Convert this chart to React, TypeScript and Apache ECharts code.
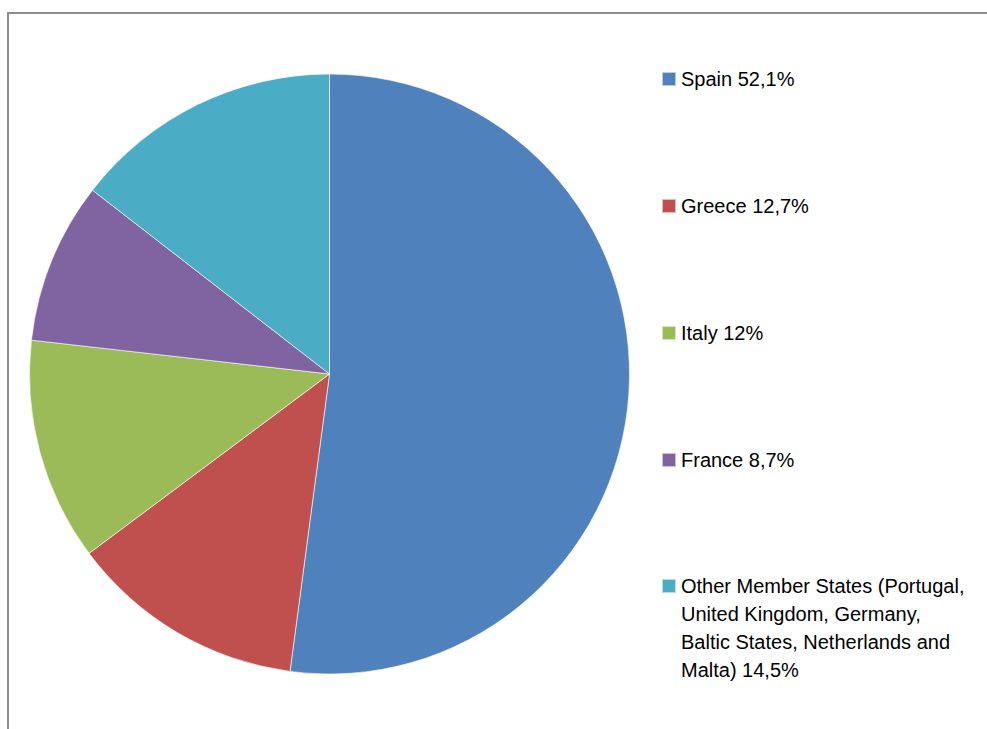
import React, { useEffect, useRef } from "react";
import * as echarts from "echarts";

const categories = [
  "Spain",
  "Greece",
  "Italy",
  "France",
  "Other Member States (Portugal, United Kingdom, Germany, Baltic States, Netherlands and Malta)",
];
const shares = [52.1, 12.7, 12, 8.7, 14.5];
const legendLines: string[][] = [
  ["Spain"],
  ["Greece"],
  ["Italy"],
  ["France"],
  ["Other Member States (Portugal,", "United Kingdom, Germany,", "Baltic States, Netherlands and", "Malta)"],
];
const colors = ["#4F81BD", "#C0504D", "#9BBB59", "#8064A2", "#4BACC6"];
const legendCenters = [79, 206, 333, 460, 586];

const fmt = (v: number) => String(v).replace(".", ",") + "%";

export default function App() {
  const ref = useRef<HTMLDivElement>(null);
  useEffect(() => {
    if (!ref.current) return;
    const chart = echarts.init(ref.current, undefined, { renderer: "svg" });
    const lh = 28;
    const legends = categories.map((name, i) => {
      const lines = legendLines[i].slice();
      lines[lines.length - 1] = lines[lines.length - 1] + " " + fmt(shares[i]);
      const pad = lines.length - 1;
      const text = "\n".repeat(pad) + lines.join("\n");
      const total = lines.length + pad;
      return {
        data: [name],
        orient: "vertical",
        left: 661,
        top: legendCenters[i] - (total * lh) / 2,
        padding: 0,
        itemWidth: 14,
        itemHeight: 14,
        icon: "rect",
        selectedMode: false,
        formatter: () => text,
        textStyle: {
          fontFamily: "'Liberation Sans', Arial, sans-serif",
          fontSize: 20,
          color: "#000",
          lineHeight: lh,
        },
      };
    });
    chart.setOption({
      animation: false,
      backgroundColor: "#fff",
      legend: legends,
      graphic: [
        {
          type: "rect",
          shape: { x: 8, y: 13, width: 1100, height: 1000 },
          style: { fill: "none", stroke: "#8e8e8e", lineWidth: 2 },
          silent: true,
        },
      ],
      series: [
        {
          type: "pie",
          center: [329.5, 374],
          radius: 300,
          startAngle: 90,
          clockwise: true,
          label: { show: false },
          labelLine: { show: false },
          emphasis: { disabled: true },
          itemStyle: { borderColor: "rgba(255,255,255,0.6)", borderWidth: 1 },
          data: categories.map((name, i) => ({
            name,
            value: shares[i],
            itemStyle: { color: colors[i] },
          })),
        },
      ],
    });
    return () => chart.dispose();
  }, []);
  return (
    <div
      ref={ref}
      style={{ position: "absolute", left: 0, top: 0, width: 987, height: 729 }}
    />
  );
}
